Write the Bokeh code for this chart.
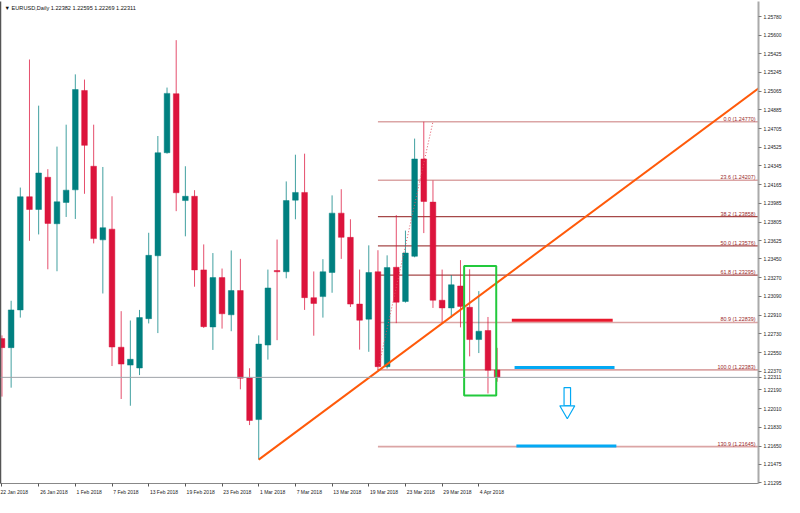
from bokeh.plotting import figure
from bokeh.models import Range1d, LinearAxis, FixedTicker, Label, Span, ColumnDataSource
from bokeh.embed import file_html
from bokeh.resources import INLINE
from bokeh.core.properties import value

FONT = "Liberation Sans"

title_text = "\u25BC EURUSD,Daily  1.22382 1.22595 1.22269 1.22311"

date_ticks = [0, 4, 8, 12, 16, 20, 24, 28, 32, 36, 40, 44, 48, 52]
date_labels = ["22 Jan 2018", "26 Jan 2018", "1 Feb 2018", "7 Feb 2018", "13 Feb 2018",
               "19 Feb 2018", "23 Feb 2018", "1 Mar 2018", "7 Mar 2018", "13 Mar 2018",
               "19 Mar 2018", "23 Mar 2018", "29 Mar 2018", "4 Apr 2018"]

price_ticks = [1.21295, 1.21475, 1.21650, 1.21830, 1.22010, 1.22190, 1.22370, 1.22550,
               1.22730, 1.22910, 1.23090, 1.23270, 1.23450, 1.23625, 1.23805, 1.23985,
               1.24165, 1.24345, 1.24525, 1.24705, 1.24885, 1.25065, 1.25245, 1.25425,
               1.25600, 1.25780]

opens = [1.22684, 1.22597, 1.22960, 1.24049, 1.23926, 1.24236, 1.23789, 1.23994, 1.24115, 1.25071,
         1.24342, 1.23634, 1.23737, 1.22601, 1.22429, 1.22401, 1.22876, 1.23481, 1.24472, 1.25040,
         1.24012, 1.24053, 1.23345, 1.22796, 1.23271, 1.22913, 1.23146, 1.22305, 1.21905, 1.22622,
         1.23339, 1.23327, 1.24016, 1.24090, 1.23078, 1.23088, 1.23320, 1.23891, 1.23658, 1.23016,
         1.22871, 1.23327, 1.22414, 1.23370, 1.23041, 1.23476, 1.24412, 1.23997, 1.23053, 1.22979,
         1.23190, 1.22985, 1.22675, 1.22762, 1.22382]
highs = [1.22715, 1.23048, 1.24137, 1.25369, 1.24925, 1.24314, 1.24531, 1.24742, 1.25226, 1.25176,
         1.24742, 1.24335, 1.24053, 1.22948, 1.22858, 1.22960, 1.23702, 1.24633, 1.25099, 1.25555,
         1.24342, 1.24112, 1.23590, 1.23507, 1.23358, 1.23532, 1.23451, 1.22399, 1.22715, 1.23348,
         1.23637, 1.24196, 1.24453, 1.24463, 1.23330, 1.23448, 1.24062, 1.24121, 1.23832, 1.23348,
         1.23581, 1.23534, 1.23485, 1.23872, 1.23723, 1.24608, 1.24770, 1.24205, 1.23348, 1.23295,
         1.23439, 1.23351, 1.23141, 1.22892, 1.22595]
lows = [1.22126, 1.22212, 1.22886, 1.23625, 1.23686, 1.23351, 1.23332, 1.23854, 1.23835, 1.24077,
        1.23600, 1.23118, 1.22420, 1.22103, 1.22038, 1.22333, 1.22830, 1.22737, 1.24463, 1.23910,
        1.23668, 1.23183, 1.22787, 1.22575, 1.22780, 1.22755, 1.22196, 1.21852, 1.21520, 1.22482,
        1.22669, 1.23264, 1.23832, 1.22960, 1.22712, 1.22886, 1.23125, 1.23451, 1.22988, 1.22578,
        1.22557, 1.22383, 1.22396, 1.22833, 1.23030, 1.23466, 1.23699, 1.22979, 1.22833, 1.22886,
        1.22792, 1.22513, 1.22545, 1.22156, 1.22269]
closes = [1.22597, 1.22960, 1.24049, 1.23926, 1.24277, 1.23792, 1.24000, 1.24112, 1.25080, 1.24543,
          1.23646, 1.23751, 1.22603, 1.22439, 1.22485, 1.22886, 1.23485, 1.24472, 1.25043, 1.24087,
          1.24053, 1.23345, 1.22799, 1.23271, 1.22923, 1.23146, 1.22303, 1.21896, 1.22631, 1.23171,
          1.23327, 1.24012, 1.24090, 1.23078, 1.23022, 1.23327, 1.23891, 1.23658, 1.23016, 1.22861,
          1.23320, 1.22414, 1.23367, 1.23034, 1.23507, 1.24412, 1.24003, 1.23053, 1.22979, 1.23202,
          1.22994, 1.22675, 1.22755, 1.22380, 1.22311]

fib_start = 41
fib_pct = [0.0, 23.6, 38.2, 50.0, 61.8, 80.9, 100.0, 130.9]
fib_price = [1.24770, 1.24207, 1.23858, 1.23576, 1.23295, 1.22839, 1.22383, 1.21645]
fib_strong = [False, False, True, True, True, False, False, False]
fib_anchor_x = [41, 47]
fib_anchor_y = [1.22383, 1.24770]

trend_x = [28, 41]
trend_y = [1.21520, 1.22372]

box_x = [50.4, 53.9]
box_y = [1.22137, 1.23382]

red_level = dict(x0=55.6, x1=66.6, y=1.22861)
blue_levels_x0 = [55.9, 56.1]
blue_levels_x1 = [66.8, 67.0]
blue_levels_y = [1.22405, 1.21651]

arrow_x = 61.65
arrow_shaft_y = 1.22126
arrow_head_y = 1.21996

current_price = closes[-1]

X0, X1 = -0.16, 82.5
Y0, Y1 = 1.21290, 1.25927

BULL = "#008080"
BEAR = "#dc143c"
FS = "5px"

# approximate glyph widths (em) so date labels can start at their tick like the terminal does
CHAR_EM = {c: 0.556 for c in "0123456789aenbp"}
CHAR_EM.update({" ": 0.278, "J": 0.5, "F": 0.611, "M": 0.833, "r": 0.333, "A": 0.667})


def left_aligned(lbl, first=False):
    if first:
        return lbl
    w = sum(CHAR_EM.get(c, 0.556) for c in lbl)
    n = int(round((w + 0.5) / 0.278))
    return "\u00a0" * n + lbl


p = figure(width=784, height=497, output_backend="svg", toolbar_location=None,
           x_range=Range1d(X0, X1), y_range=Range1d(Y0, Y1),
           x_axis_location="below", y_axis_location="right",
           min_border_left=0, min_border_top=1, min_border_right=0, min_border_bottom=13)
p.grid.visible = False
p.outline_line_color = None
p.background_fill_color = "white"

# axes
xa = p.xaxis[0]
xa.axis_label = None
xa.axis_label_standoff = 0
xa.ticker = FixedTicker(ticks=date_ticks)
xa.major_label_overrides = {t: left_aligned(l, i == 0)
                            for i, (t, l) in enumerate(zip(date_ticks, date_labels))}
xa.major_label_text_font = FONT
xa.major_label_text_font_size = FS
xa.major_label_text_color = "#222222"
xa.major_tick_out = 3
xa.major_tick_in = 0
xa.minor_tick_line_color = None
xa.major_label_standoff = 2
xa.axis_line_color = "#888888"
xa.major_tick_line_color = "#555555"

ya = p.yaxis[0]
ya.axis_label = None
ya.axis_label_standoff = 0
ya.ticker = FixedTicker(ticks=price_ticks + [current_price])
overrides = {t: f"{t:.5f}" for t in price_ticks}
overrides[current_price] = f"{current_price:.5f}"
ya.major_label_overrides = overrides
ya.major_label_text_font = FONT
ya.major_label_text_font_size = FS
ya.major_label_text_color = "#222222"
ya.major_tick_out = 3
ya.major_tick_in = 0
ya.minor_tick_line_color = None
ya.major_label_standoff = 2
ya.axis_line_color = "#aaaaaa"
ya.axis_line_width = 2
ya.major_tick_line_color = "#777777"

la = LinearAxis(ticker=FixedTicker(ticks=[]), major_label_text_font_size="0px",
                major_tick_line_color=None, minor_tick_line_color=None, axis_label=None,
                axis_label_standoff=0, major_tick_out=0, major_tick_in=0,
                axis_line_color="#555555", axis_line_width=1.5, major_label_standoff=0)
p.add_layout(la, "left")

# fib lines
for lvl, pr, strong in zip(fib_pct, fib_price, fib_strong):
    p.segment(x0=[fib_start], y0=[pr], x1=[X1], y1=[pr],
              line_color="#a64848" if strong else "#dba5a5",
              line_width=1.2 if strong else 1.6)
p.text(x=[X1] * len(fib_pct), y=fib_price,
       text=[f"{l:.1f} ({v:.5f})" for l, v in zip(fib_pct, fib_price)],
       text_align="right", text_baseline="bottom", x_offset=-3, y_offset=0,
       text_font=value(FONT), text_font_size="5.4px", text_color="#9a2a2a")

# current price line
p.add_layout(Span(location=current_price, dimension="width", line_color="#9ea3a8", line_width=1))

# candles
inc = [c >= o for o, c in zip(opens, closes)]
src = ColumnDataSource(dict(
    x=list(range(len(opens))),
    hi=highs, lo=lows,
    top=[max(o, c) for o, c in zip(opens, closes)],
    bot=[min(o, c) for o, c in zip(opens, closes)],
    col=[BULL if i else BEAR for i in inc],
))
p.segment(x0="x", y0="lo", x1="x", y1="hi", line_color="col", line_alpha=0.75, line_width=1, source=src)
p.vbar(x="x", width=0.62, top="top", bottom="bot", fill_color="col", line_color="col",
       line_alpha=0.6, line_width=0.8, source=src)

# fib dotted anchor line
p.line(fib_anchor_x, fib_anchor_y, line_color="#e05060", line_dash="1 2", line_width=1)

# trend line (ray)
slope = (trend_y[1] - trend_y[0]) / (trend_x[1] - trend_x[0])
p.line([trend_x[0], X1 + 1], [trend_y[0], trend_y[0] + slope * (X1 + 1 - trend_x[0])],
       line_color="#ff5a0a", line_width=2)

# green box
p.quad(left=[box_x[0]], right=[box_x[1]], bottom=[box_y[0]], top=[box_y[1]],
       fill_color=None, line_color="#22c93c", line_width=2)

# target levels
p.segment(x0=[red_level["x0"]], y0=[red_level["y"]], x1=[red_level["x1"]], y1=[red_level["y"]],
          line_color="#e8192c", line_width=3)
p.segment(x0=blue_levels_x0, y0=blue_levels_y, x1=blue_levels_x1, y1=blue_levels_y,
          line_color="#03a9f4", line_width=3)

# down arrow
p.rect(x=[arrow_x], y=[arrow_shaft_y], width=6.5, height=18, width_units="screen",
       height_units="screen", fill_color="white", line_color="#03a9f4", line_width=1.2)
p.scatter(x=[arrow_x], y=[arrow_head_y], marker="inverted_triangle", size=15,
          fill_color="white", line_color="#03a9f4", line_width=1.2)

# title
p.add_layout(Label(x=X0, y=Y1, text=title_text, x_offset=4, y_offset=-3,
                   text_baseline="top", text_font=FONT, text_font_size="5.6px",
                   text_color="#111111"))

open("out.html", "w").write(file_html(p, INLINE))
